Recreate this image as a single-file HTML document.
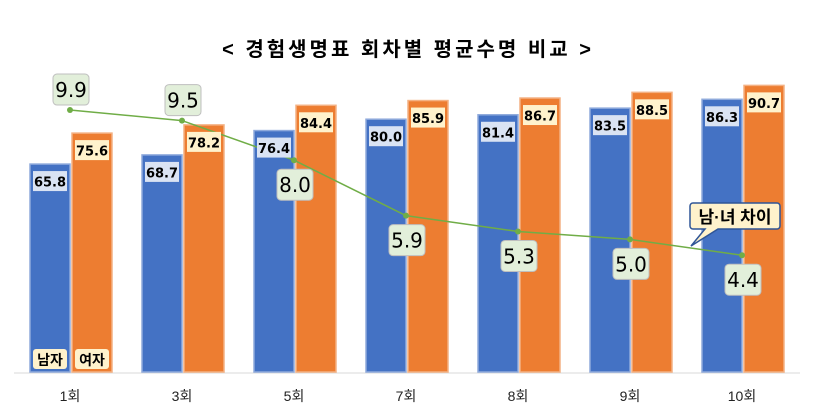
<!DOCTYPE html>
<html><head><meta charset="utf-8">
<style>
html,body{margin:0;padding:0;background:#fff;}
svg{display:block;font-family:"Liberation Sans","Noto Sans CJK KR",sans-serif;}
</style></head>
<body>
<svg id="chart" width="814" height="416" viewBox="0 0 814 416">
<text x="408" y="56" text-anchor="middle" font-size="20" font-weight="bold" letter-spacing="3" fill="#000">&lt; 경험생명표 회차별 평균수명 비교 &gt;</text>
<line x1="14" y1="373" x2="800" y2="373" stroke="#d9d9d9" stroke-width="1"/>
<g id="bars"></g>
<g id="line"></g>
<g id="labels"></g>
<g>
<path d="M693,203 H777 a3,3 0 0 1 3,3 V226 a3,3 0 0 1 -3,3 H718 L691,246 L705,229 H693 a3,3 0 0 1 -3,-3 V206 a3,3 0 0 1 3,-3 Z" fill="#fff2cc" stroke="#2f5597" stroke-width="1.5"/>
<text x="735" y="223" text-anchor="middle" font-size="17" font-weight="bold" fill="#000">남·녀 차이</text>
</g>
<g>
<rect x="33" y="349" width="34" height="20" rx="3" fill="#fff2cc"/>
<text x="50" y="365" text-anchor="middle" font-size="14" font-weight="bold">남자</text>
</g>
<g>
<rect x="75" y="349" width="34" height="20" rx="3" fill="#fff2cc"/>
<text x="92" y="365" text-anchor="middle" font-size="14" font-weight="bold">여자</text>
</g>
</svg>
<script>
const categories = ["1회","3회","5회","7회","8회","9회","10회"];
const maleValues = [65.8,68.7,76.4,80.0,81.4,83.5,86.3];
const femaleValues = [75.6,78.2,84.4,85.9,86.7,88.5,90.7];
const diffValues = [9.9,9.5,8.0,5.9,5.3,5.0,4.4];

const NS = "http://www.w3.org/2000/svg";
function xCenter(i){ return 70 + i*112; }
function yBar(v){ return 372 - v*3.16; }
function yDiff(v){ return 371.4 - v*26.4; }
function mk(tag, attrs, parent){
  const e = document.createElementNS(NS, tag);
  for (const k in attrs) e.setAttribute(k, attrs[k]);
  parent.appendChild(e);
  return e;
}
const bars = document.getElementById('bars');
const line = document.getElementById('line');
const labels = document.getElementById('labels');
const svg = document.getElementById('chart');

categories.forEach((c,i)=>{
  const cx = xCenter(i);
  const m = maleValues[i], f = femaleValues[i];
  const bm = mk('rect',{x:cx-40,y:yBar(m),width:40,height:372-yBar(m),fill:'#4472c4',stroke:'#8faadc','stroke-width':1.5},bars);
  
  
  const bf = mk('rect',{x:cx+2,y:yBar(f),width:40,height:372-yBar(f),fill:'#ed7d31',stroke:'#f4b183','stroke-width':1.5},bars);
  
  
  [[cx-20,m,'#dae3f3','male'],[cx+22,f,'#fff2cc','female']].forEach(([x,v,col,nm])=>{
    const g = mk('g',{},labels);
    
    
    const y = yBar(v)+18;
    mk('rect',{x:x-17,y:y-11,width:34,height:20,fill:col},g);
    const t = mk('text',{x:x,y:y+4.5,'text-anchor':'middle','font-size':13,'font-weight':'bold','font-family':'"DejaVu Sans",sans-serif'},g);
    t.textContent = v.toFixed(1);
  });
  const tl = mk('text',{x:cx,y:401,'text-anchor':'middle','font-size':14,fill:'#222'},svg);
  tl.textContent = c;
  
  
});

const pts = diffValues.map((v,i)=>[xCenter(i), yDiff(v)]);
const pl = mk('polyline',{points:pts.map(p=>p.join(',')).join(' '),fill:'none',stroke:'#70ad47','stroke-width':1.5},line);


diffValues.forEach((v,i)=>{
  const [x,y] = pts[i];
  const d = mk('circle',{cx:x,cy:y,r:3,fill:'#70ad47'},line);
  
  
  const ly = i<2 ? y-21 : y+24;
  const g = mk('g',{},labels);
  
  
  mk('rect',{x:x-17,y:ly-15,width:36,height:31,rx:4,fill:'#e2efda',stroke:'#bfbfbf','stroke-width':1},g);
  const t = mk('text',{x:x+1,y:ly+8,'text-anchor':'middle','font-size':20,'font-family':'"DejaVu Sans",sans-serif',fill:'#000'},g);
  t.textContent = v.toFixed(1);
});
</script>
</body></html>
